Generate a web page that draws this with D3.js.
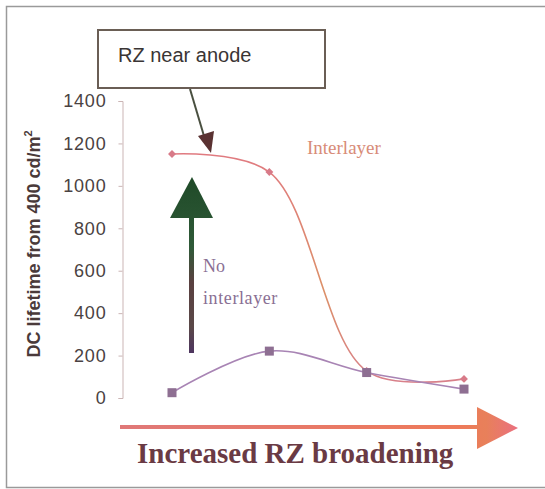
<!DOCTYPE html>
<html><head><meta charset="utf-8">
<script src="https://cdn.jsdelivr.net/npm/d3@7"></script>
<style>body{margin:0;background:#fff}svg{display:block}</style>
</head><body>
<script>
const categories = [1, 2, 3, 4];
const interlayer = [1150, 1065, 127, 90];
const noInterlayer = [25, 221, 120, 42];
const yTicks = [0, 200, 400, 600, 800, 1000, 1200, 1400];

const W = 545, H = 489;
const svg = d3.select("body").append("svg").attr("width", W).attr("height", H);
const defs = svg.append("defs");

// frame
svg.append("path").attr("d", `M545,6.5 H6.5 V487.5 H545`).attr("fill", "none").attr("stroke", "#9a9a9a").attr("stroke-width", 1.5);

const x = d3.scalePoint().domain(categories).range([172, 464]);
const y = d3.scaleLinear().domain([0, 1400]).range([398, 101]);

// y axis
const ax = svg.append("g").attr("transform", "translate(122.5,0)")
  .call(d3.axisLeft(y).tickValues(yTicks).tickFormat(d3.format("d")).tickSize(4).tickPadding(12));
ax.select(".domain").attr("stroke", "#cbb5b5");
ax.selectAll(".tick line").attr("stroke", "#cbb5b5");
ax.selectAll(".tick text").attr("fill", "#4a4242").attr("font-family", "Liberation Sans, Arial, sans-serif")
  .attr("font-size", 18).attr("letter-spacing", 0.8);

svg.append("text").attr("transform", "translate(40,244) rotate(-90)")
  .attr("text-anchor", "middle").attr("font-family", "Liberation Sans, Arial, sans-serif")
  .attr("font-weight", "bold").attr("font-size", 18).attr("fill", "#4a3a3a")
  .text("DC lifetime from 400 cd/m").append("tspan").attr("dy", -8).attr("font-size", 11).text("2");

// lines
const line = d3.line().x((d, i) => x(categories[i])).y(d => y(d)).curve(d3.curveCatmullRom.alpha(0.5));
const gI = defs.append("linearGradient").attr("id", "gI").attr("x1", 0).attr("y1", 0).attr("x2", 0).attr("y2", 1);
gI.append("stop").attr("offset", "0%").attr("stop-color", "#e07a80");
gI.append("stop").attr("offset", "60%").attr("stop-color", "#dc9068");
gI.append("stop").attr("offset", "100%").attr("stop-color", "#d8808a");
svg.append("path").attr("d", line(interlayer)).attr("fill", "none").attr("stroke", "url(#gI)").attr("stroke-width", 1.6);
svg.append("path").attr("d", line(noInterlayer)).attr("fill", "none").attr("stroke", "#a884b4").attr("stroke-width", 1.6);

// markers
svg.selectAll(".di").data(interlayer).enter().append("path")
  .attr("d", d3.symbol(d3.symbolDiamond2, 40))
  .attr("transform", (d, i) => `translate(${x(categories[i])},${y(d)})`)
  .attr("fill", "#d87a88");
svg.selectAll(".sq").data(noInterlayer).enter().append("rect")
  .attr("x", (d, i) => x(categories[i]) - 4.5).attr("y", d => y(d) - 4.5)
  .attr("width", 9).attr("height", 9).attr("fill", "#8e6f92");

// labels
svg.append("text").attr("x", 307).attr("y", 154).attr("font-family", "Liberation Serif, Times New Roman, serif")
  .attr("font-size", 19).attr("fill", "#d88c78").text("Interlayer");
svg.append("text").attr("x", 203).attr("y", 272).attr("font-family", "Liberation Serif, Times New Roman, serif")
  .attr("font-size", 18).attr("fill", "#8a7094").text("No");
svg.append("text").attr("x", 203).attr("y", 304).attr("font-family", "Liberation Serif, Times New Roman, serif")
  .attr("font-size", 18).attr("letter-spacing", 0.6).attr("fill", "#8a7094").text("interlayer");

// vertical gradient arrow
const gV = defs.append("linearGradient").attr("id", "gV").attr("gradientUnits", "userSpaceOnUse")
  .attr("x1", 0).attr("y1", 177).attr("x2", 0).attr("y2", 353);
gV.append("stop").attr("offset", "0%").attr("stop-color", "#1f4a28");
gV.append("stop").attr("offset", "40%").attr("stop-color", "#2f5a38");
gV.append("stop").attr("offset", "60%").attr("stop-color", "#5a4040");
gV.append("stop").attr("offset", "85%").attr("stop-color", "#5a4848");
gV.append("stop").attr("offset", "100%").attr("stop-color", "#4e3560");
svg.append("rect").attr("x", 189).attr("y", 214).attr("width", 5).attr("height", 139).attr("fill", "url(#gV)");
svg.append("path").attr("d", "M192,177 L213,218 L170,218 Z").attr("fill", "url(#gV)");

// callout
svg.append("rect").attr("x", 98).attr("y", 30).attr("width", 227).attr("height", 58)
  .attr("fill", "#fff").attr("stroke", "#6a5e55").attr("stroke-width", 2);
svg.append("text").attr("x", 118).attr("y", 62).attr("font-family", "Liberation Sans, Arial, sans-serif")
  .attr("font-size", 20).attr("fill", "#3a3535").text("RZ near anode");
svg.append("line").attr("x1", 190).attr("y1", 89).attr("x2", 204).attr("y2", 136)
  .attr("stroke", "#4a5040").attr("stroke-width", 2);
svg.append("path").attr("d", "M211,153 L198,136 L214,131 Z").attr("fill", "#5a3232");

// bottom arrow
const gH = defs.append("linearGradient").attr("id", "gH").attr("gradientUnits", "userSpaceOnUse")
  .attr("x1", 120).attr("y1", 0).attr("x2", 518).attr("y2", 0);
gH.append("stop").attr("offset", "0%").attr("stop-color", "#e07878");
gH.append("stop").attr("offset", "85%").attr("stop-color", "#ee7a5a");
gH.append("stop").attr("offset", "92%").attr("stop-color", "#e8805a");
gH.append("stop").attr("offset", "100%").attr("stop-color", "#ea7080");
svg.append("rect").attr("x", 120).attr("y", 425).attr("width", 360).attr("height", 4).attr("fill", "url(#gH)");
svg.append("path").attr("d", "M477,407 L518,428 L477,449 Z").attr("fill", "url(#gH)");
svg.append("text").attr("x", 137).attr("y", 463).attr("font-family", "Liberation Serif, Times New Roman, serif")
  .attr("font-weight", "bold").attr("font-size", 29).attr("fill", "#6a3a44").text("Increased RZ broadening");
</script>
</body></html>
